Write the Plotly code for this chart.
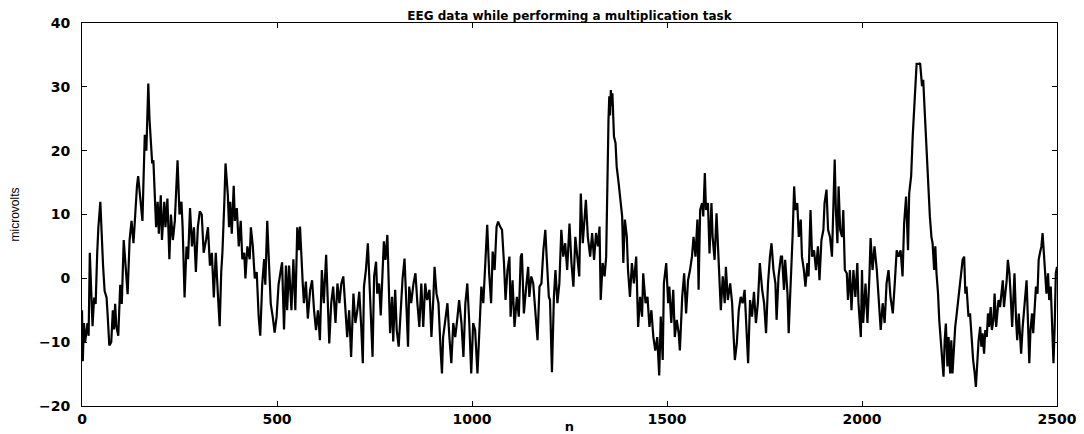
import plotly.graph_objects as go

# EEG trace: (sample n, microvolts) vertices, by segment
seg_a = [(0,-5),(2,-13),(5,-7),(8,-10),(14,-7),(17,-9),(20,4),(24,-5),(27,-7.5),(31,-3),
         (35,-4),(39,4),(42,8),(47,12),(50,7),(54,2),(58,-2),(63,-3),(66,-6),(70,-10.5),
         (75,-10),(79,-5),(82,-8),(85,-4),(88,-7.5),(93,-9),(98,-1),(102,-4),(107,6),(112,2),
         (117,-2.5),(122,6),(127,9),(132,5.5),(138,12),(141,14.5),(144,16),(149,13),(155,9),(158,16),
         (161,22.5),(165,20),(170,30.5),(173,25),(177,21),(180,18),(183,18.5),(187,13),(190,8),(194,12),
         (197,7),(202,13),(205,6),(211,12),(214,8),(219,12.5),(224,3),(228,10),(233,6),(238,9),
         (245,18.5),(250,10),(255,12),(258,8),(263,-3),(268,5),(272,3),(277,11),(282,5),(287,8),
         (292,1),(297,8),(302,10.5),(307,10),(312,4),(318,6),(323,8),(328,2),(333,4),(338,-3),
         (343,4),(348,-2),(353,-7.5),(357,1),(360,4),(365,12),(368,18),(374,13),(377,8),(380,12),
         (384,7),(389,14.5),(392,9),(397,11),(402,5),(407,9),(411,3),(416,4),(419,0),(424,5),
         (430,3),(433,8),(438,5),(443,0),(448,1),(453,-6),(457,-9),(462,-1),(467,3),(470,-1),
         (475,9),(479,3),(484,-4),(489,-6),(494,-8.5),(499,-6),(504,-1),(509,1),(513,2.5),(518,-8),
         (523,2),(526,-5),(531,2),(537,-5),(542,3),(547,-5),(552,8)]
seg_b = [(556,4.4),(559,8.1),(566,-0.8),(569,-3.9),(574,-0.5),(579,-6.3),(585,-1.8),(590,-0.3),
         (595,-5),(600,-8.1),(605,-5),(610,-9.7),(615,1.3),(620,-3.9),(626,3.7),(629,-2.9),
         (634,-10.2),(639,-3.9),(644,-1.3),(650,-7),(655,-0.8),(660,-3.9),(665,-0.8),(670,0.3),
         (675,-3.9),(680,-9.2),(685,-5),(690,-12.3),(696,-2.4),(701,-7),(706,-5),(711,-2.1)]
seg_c = [(716,-7.6),(720,-13.3),(723,-1.3),(728,1.3),(733,5.5),(737,-0.8),(740,-7),(745,-12.3),
         (749,0.3),(754,2.6),(757,-2.4),(762,-0.8),(766,-5.8),(769,-1.8),(774,5.8),(778,2.9),
         (783,6.8),(786,0.3),(790,-8.6),(795,-2.9),(798,-9.9),(803,-1.8),(807,-8.1),(812,-10.7),
         (817,-5),(822,0),(827,3.1),(831,-3.9),(836,-10.7),(839,-1.3),(844,-3.9),(850,-0.8),
         (855,0.8),(860,-3.9),(865,-7.6),(870,-0.8),(875,-7.6),(880,-0.8),(885,-3.4),(891,-1.8),
         (896,-9.2),(901,-2.9),(904,1.8),(909,-2.4),(914,-3.9),(920,-11.8),(923,-14.9),(926,-9.2),
         (932,-6.5),(937,-3.9),(942,-9.2),(947,-13.3),(952,-7),(957,-9.2),(962,-6.5),(967,-3.4),
         (973,-7),(978,-12.3),(983,-3.9),(988,-0.8),(993,-7),(998,-14.9),(1003,-7),(1008,-8.1),
         (1014,-14.9),(1019,-7),(1024,-1.3),(1029,-3.9),(1034,1.3),(1039,8.4),(1044,0.8),(1049,-3.9),
         (1053,4.2),(1058,1.3),(1063,8.1),(1067,8.9)]
seg_d = [(1072,8.1),(1077,7.6),(1082,2.4),(1086,-3.4),(1091,1.3),(1096,3.4),(1099,-6),(1104,-0.3),
         (1109,-7.6),(1115,-2.9),(1120,-6),(1125,3.4),(1128,3.9),(1133,-5.5),(1139,-1.3),(1144,1.8),
         (1147,-2.9),(1152,0.3),(1157,-0.8),(1162,-5),(1168,-9.7),(1173,-1.3),(1178,-0.8),(1183,4.4),
         (1188,7.6),(1191,3.9),(1197,-2.9),(1200,-3.4),(1205,-14.7),(1210,-2.9),(1214,1.3),(1219,-3.9),
         (1224,-0.8),(1229,7.6),(1234,3.4),(1239,5.5),(1244,1.3),(1250,8.6),(1255,2.4),(1260,-1.3),
         (1265,6.5),(1270,3.4),(1275,0.3),(1279,13.3),(1284,5.5),(1289,9.7),(1292,12.3),(1297,6.5),
         (1303,3.4),(1308,7.1),(1313,2.9),(1318,7.1),(1323,5),(1327,8.1),(1330,-3.4),(1335,2.4),
         (1340,0.3),(1344,3.4),(1347,17),(1350,24.9),(1352,28.5),(1354,25.5),(1356,29.5),(1358,27),
         (1360,29),(1362,24),(1364,22.2),(1368,21.2),(1371,17.5),(1376,14.9),(1381,11.8),(1385,9.7),
         (1388,2.4),(1392,9.2),(1397,6.5),(1400,1.3),(1405,-2.9),(1410,2.4),(1415,-0.8),(1421,3.4),
         (1426,-7.6)]
seg_e = [(1431,-2.9),(1436,-6),(1439,0.8),(1445,-3.9),(1450,-2.9),(1455,-7.6),(1460,-5),(1465,-9.2),
         (1470,-11.3),(1475,-9.2),(1480,-15.2),(1484,-6),(1489,-12.8),(1492,-0.8),(1498,2.4),(1503,-3.9),
         (1506,-1.3),(1511,-7),(1516,-1.8),(1520,-9.2),(1525,-6.5),(1530,-8.6),(1533,-11.3),(1539,-2.9),
         (1544,0.8),(1549,-5.5),(1554,-0.3),(1559,1.3),(1564,3.4),(1568,6.5),(1573,3.4),(1578,9.2),
         (1581,-1.8),(1585,10.7),(1590,11.8),(1593,9.7),(1597,16.5),(1600,10.7),(1605,11.8),(1609,3.9),
         (1614,11.8),(1617,6.5),(1622,2.9),(1627,10.2),(1631,4.4),(1634,-0.3),(1638,-5),(1643,0.3),
         (1648,-3.9),(1651,1.8),(1656,-3.4),(1662,-0.8),(1667,-3.9),(1670,-8.1),(1674,-12.8),(1679,-10.2),
         (1684,-5),(1689,-2.9),(1694,-3.9),(1699,-1.8),(1704,-8.6),(1708,-13.3),(1713,-3.4),(1718,-6),
         (1723,-2.1),(1728,-7),(1733,-3.9),(1738,2.4),(1744,-1.8),(1749,-3.9),(1754,-8.6),(1759,-0.8),
         (1764,3.4),(1768,5.5),(1773,1.3),(1778,-0.8),(1781,-6.5),(1786,0.3),(1792,3.4)]
seg_f = [(1795,3.4),(1800,-1.8),(1803,2.9),(1809,-2.4),(1812,-8.6),(1815,-3.9),(1819,1.3),(1822,6.5),
         (1826,14.4),(1829,10.7),(1834,11.8),(1838,6.5),(1843,9.2),(1846,3.4),(1851,1.3),(1855,-1.3),
         (1860,2.4),(1863,0.3),(1868,10.7),(1872,3.4),(1877,4.4),(1882,1.3),(1887,5),(1891,-0.3),
         (1896,6),(1901,7.6),(1904,11.8),(1909,13.9),(1913,7.6),(1918,6.5),(1923,3.4),(1926,8.6),
         (1930,18.6),(1933,10.7),(1937,5.5),(1940,14.4),(1944,7.6),(1949,6.5),(1952,10.7),(1956,1.3),
         (1961,0.8),(1964,-3.4),(1969,1.3),(1973,-5),(1978,1.3),(1983,-2.9),(1988,2.4),(1991,-3.9),
         (1997,-9.2),(2000,1.3),(2003,-7),(2009,-0.8),(2014,-7),(2019,0.3),(2022,6.3),(2027,1.3),
         (2032,5),(2038,1.3),(2043,-2.9),(2048,-8.1),(2053,-3.9),(2058,-7),(2063,-0.8),(2068,1.3),
         (2073,-2.9),(2079,-5.5),(2084,-0.8),(2089,4.4),(2094,3.4),(2099,4.4),(2104,0.3),(2108,8.6),
         (2113,12.8),(2118,4.4),(2121,13.3),(2126,16),(2130,22.2),(2133,25.9),(2137,29.6),(2140,33.6),
         (2147,33.6)]
seg_g = [(2149,33.7),(2154,30.1),(2157,31.1),(2161,25.9),(2164,22.2),(2167,17.5),(2171,13.3),(2174,9.7),
         (2178,6.5),(2181,5.5),(2185,1.3),(2188,5),(2191,0.8),(2195,-2.4),(2198,-6.5),(2202,-9.7),
         (2205,-11.8),(2209,-15.4),(2212,-9.7),(2215,-7.1),(2219,-13.8),(2222,-9.2),(2226,-14.9),(2229,-9.7),
         (2232,-14.9),(2236,-10.7),(2239,-7.6),(2243,-5.5),(2248,-2.4),(2251,-1.3),(2255,0.8),(2258,2.9),
         (2262,3.4),(2265,-2.4),(2268,-1.3),(2273,-6),(2277,-5.5),(2282,-10.7),(2285,-12.8),(2289,-14.9),
         (2292,-17),(2296,-12.8),(2299,-9.7),(2303,-7.6),(2306,-10.7),(2309,-8.6),(2313,-11.8),(2316,-8.1),
         (2320,-9.2),(2323,-5.5),(2326,-7.6),(2330,-4.5),(2333,-8.1),(2337,-6.5),(2340,-2.4),(2344,-7.6),
         (2347,-5.5),(2350,-3.4),(2354,-4.5),(2357,-2.4),(2361,-0.3),(2364,-4.5),(2368,-2.4),(2371,-0.3),
         (2374,2.9),(2378,0.8),(2381,-2.4),(2385,-7.6),(2388,-3.4),(2391,0.8),(2395,-6.5),(2398,-9.7),
         (2402,-5.5),(2405,-8.1),(2408,-11.8),(2412,-7.6),(2415,-5),(2419,-2.4),(2422,-0.3),(2426,-7.6),
         (2429,-13.3),(2432,-8.1),(2436,-5.5),(2439,-8.6),(2443,-4.5),(2446,-1.3),(2450,-2.4),(2453,2.9),
         (2456,3.9),(2460,5),(2463,7.1),(2467,3.9),(2470,0.8),(2473,-2.4),(2477,0.8),(2480,-3.4),
         (2484,-1.3),(2487,-5.5),(2491,-13.3),(2494,-7.6),(2497,0.8),(2500,1.8)]

x_ticks = [0, 500, 1000, 1500, 2000, 2500]
y_ticks = [-20, -10, 0, 10, 20, 30, 40]

points = seg_a + seg_b + seg_c + seg_d + seg_e + seg_f + seg_g
n_vals = [p[0] for p in points]
uv_vals = [p[1] for p in points]

FONT = "DejaVu Sans, Liberation Sans, Arial, sans-serif"
W, H = 1076, 426   # page body has an 8px margin

fig = go.Figure(go.Scatter(x=n_vals, y=uv_vals, mode="lines",
                           line=dict(color="black", width=2.2), hoverinfo="skip"))

fig.update_layout(
    width=W, height=H,
    margin=dict(l=74, r=27, t=15, b=28, autoexpand=False),
    paper_bgcolor="white", plot_bgcolor="white",
    showlegend=False,
    title=dict(text="EEG data while performing a multiplication task",
               x=0.5, xref="paper", xanchor="center",
               y=1 - 7.5/H, yref="container", yanchor="middle",
               pad=dict(t=0, b=0, l=0, r=0),
               font=dict(family=FONT, size=12, color="black", weight="bold")),
)
axis_common = dict(showgrid=False, zeroline=False, showline=True, linecolor="black",
                   linewidth=1, mirror="ticks", ticks="inside", ticklen=5,
                   tickcolor="black", tickwidth=1, automargin=False,
                   tickfont=dict(family=FONT, size=14, color="black", weight="bold"))
fig.update_xaxes(range=[0, 2500], tickvals=x_ticks, ticktext=[str(t) for t in x_ticks],
                 ticklabelstandoff=0,
                 title=dict(text="n", standoff=0,
                            font=dict(family=FONT, size=13, color="black", weight="bold")),
                 **axis_common)
fig.update_yaxes(range=[-20, 40], tickvals=y_ticks, ticktext=[str(t).replace("-", "\u2212") for t in y_ticks],
                 ticklabelstandoff=8,
                 title=dict(text="microvolts", standoff=20,
                            font=dict(family="Liberation Sans Narrow, Liberation Sans, Arial", size=12, color="black")),
                 **axis_common)

fig.write_html("out.html")
